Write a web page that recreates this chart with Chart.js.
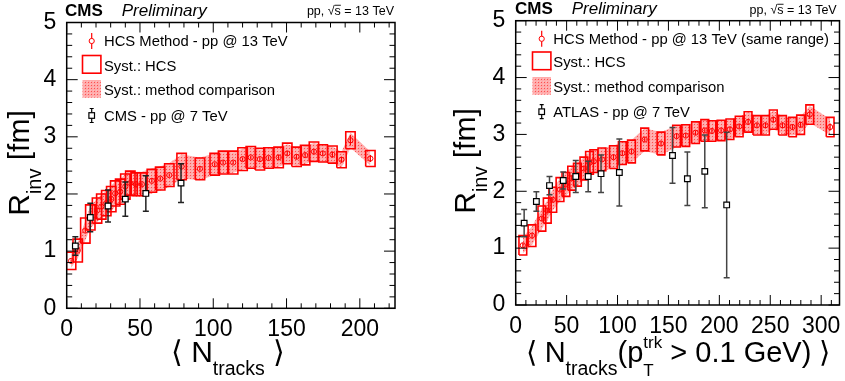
<!DOCTYPE html>
<html>
<head>
<meta charset="utf-8">
<script src="https://cdn.jsdelivr.net/npm/chart.js@4.4.1/dist/chart.umd.min.js"></script>
<style>
    html, body { margin: 0; padding: 0; background: #fff; }
    #lienzo { position: relative; width: 845px; height: 381px; }
    .panel { position: absolute; top: 0; width: 422px; height: 381px; }
</style>
</head>
<body>
<div id="lienzo">
    <div class="panel" style="left:0"><canvas id="grafica-izq" width="422" height="381"></canvas></div>
    <div class="panel" style="left:423px"><canvas id="grafica-der" width="422" height="381"></canvas></div>
</div>
<script>
// ---- panel izquierdo: HCS pp 13 TeV vs CMS pp 7 TeV ----
const nTrk13 = [3, 7.5, 12.7, 16.1, 20.7, 23.6, 27, 30.4, 33.1, 36.5, 40, 43.4, 47.2, 51.3, 58.1, 63.8, 70, 78.4,
    90.9, 101, 106.7, 113.6, 120, 125.6, 131.8, 137.7, 144.6, 150.5, 156.8, 162.7, 168.7, 174.7, 181.3, 187.5, 193.6, 207.2];
const rInv13 = [0.83, 1.01, 1.36, 1.59, 1.71, 1.78, 1.84, 1.91, 2.01, 2.04, 2.13, 2.19, 2.17, 2.17, 2.23, 2.27, 2.33, 2.48,
    2.44, 2.52, 2.55, 2.55, 2.61, 2.64, 2.61, 2.63, 2.64, 2.71, 2.65, 2.68, 2.74, 2.71, 2.69, 2.60, 2.94, 2.62];
const estad13 = [0.03, 0.03, 0.03, 0.03, 0.03, 0.03, 0.03, 0.03, 0.03, 0.03, 0.03, 0.03, 0.03, 0.03, 0.03, 0.03, 0.03, 0.03,
    0.03, 0.03, 0.03, 0.03, 0.03, 0.03, 0.03, 0.03, 0.04, 0.04, 0.04, 0.04, 0.04, 0.04, 0.05, 0.05, 0.09, 0.06];
const sistHCS13 = [0.15, 0.2, 0.22, 0.22, 0.22, 0.22, 0.22, 0.22, 0.22, 0.22, 0.22, 0.21, 0.2, 0.2, 0.2, 0.2, 0.2, 0.23,
    0.19, 0.19, 0.2, 0.2, 0.2, 0.19, 0.19, 0.18, 0.18, 0.18, 0.17, 0.17, 0.17, 0.15, 0.15, 0.14, 0.15, 0.14];
const sistMet13 = [0.12, 0.14, 0.17, 0.19, 0.2, 0.21, 0.21, 0.22, 0.22, 0.22, 0.22, 0.22, 0.22, 0.22, 0.22, 0.21, 0.21, 0.21,
    0.2, 0.19, 0.19, 0.18, 0.18, 0.18, 0.17, 0.17, 0.17, 0.16, 0.16, 0.16, 0.15, 0.15, 0.14, 0.14, 0.13, 0.12];

const nTrk7 = [5.9, 16.1, 28.2, 40, 54, 78];
const rInv7 = [1.09, 1.59, 1.79, 1.91, 2.01, 2.19];
const err7 = [0.16, 0.25, 0.28, 0.3, 0.31, 0.34];

// ---- panel derecho: HCS mismo rango (pT > 0.1 GeV) vs ATLAS pp 7 TeV ----
const nTrkMR = [7, 16, 25.7, 31, 36.4, 43.5, 49.3, 55, 60.6, 67, 72.5, 76.7, 84.7, 96, 104.7, 113.7, 126.7, 142.7,
    158, 167, 176.6, 185.7, 192.7, 201.7, 210.4, 219.5, 228.2, 236.9, 245.3, 253, 262, 271.8, 279.8, 288.8, 308.8];
const rInvMR = [1.05, 1.22, 1.52, 1.66, 1.85, 2.03, 2.12, 2.23, 2.29, 2.40, 2.50, 2.53, 2.56, 2.60, 2.67, 2.70, 2.91, 2.84,
    2.97, 2.98, 3.03, 3.07, 3.06, 3.07, 3.09, 3.14, 3.22, 3.16, 3.16, 3.26, 3.16, 3.13, 3.17, 3.35, 3.13];
const estadMR = [0.04, 0.04, 0.04, 0.04, 0.04, 0.04, 0.04, 0.04, 0.04, 0.04, 0.04, 0.04, 0.04, 0.04, 0.04, 0.04, 0.04, 0.04,
    0.04, 0.04, 0.04, 0.04, 0.04, 0.04, 0.04, 0.04, 0.04, 0.04, 0.05, 0.05, 0.05, 0.05, 0.05, 0.08, 0.06];
const sistHCSMR = [0.17, 0.19, 0.22, 0.22, 0.22, 0.21, 0.21, 0.21, 0.2, 0.2, 0.2, 0.2, 0.2, 0.2, 0.2, 0.2, 0.2, 0.2,
    0.19, 0.19, 0.19, 0.19, 0.18, 0.18, 0.18, 0.18, 0.18, 0.17, 0.17, 0.17, 0.17, 0.17, 0.17, 0.17, 0.17];
const sistMetMR = [0.14, 0.16, 0.18, 0.18, 0.19, 0.2, 0.2, 0.2, 0.2, 0.2, 0.2, 0.2, 0.2, 0.2, 0.2, 0.2, 0.2, 0.2,
    0.19, 0.19, 0.18, 0.18, 0.17, 0.17, 0.17, 0.17, 0.17, 0.16, 0.16, 0.16, 0.16, 0.15, 0.15, 0.15, 0.14];

const nTrkAtlas = [8.3, 20.3, 33.2, 46.7, 59, 71.2, 83.8, 101.8, 154, 168.6, 185.7, 207.2];
const rInvAtlas = [1.44, 1.82, 2.10, 2.19, 2.26, 2.26, 2.31, 2.33, 2.63, 2.22, 2.35, 1.76];
const errAtlas = [0.24, 0.17, 0.16, 0.15, 0.28, 0.27, 0.33, 0.59, 0.49, 0.47, 0.64, 1.28];

const ticksX13 = [0, 50, 100, 150, 200];
const ticksXMR = [0, 50, 100, 150, 200, 250, 300];
const ticksY = [0, 1, 2, 3, 4, 5];

const FUENTE = '"Liberation Sans", Arial, Helvetica, sans-serif';

// textura punteada de la banda "method comparison"
const texturaRosa = (function() {
    const c = document.createElement('canvas');
    c.width = 3; c.height = 3;
    const g = c.getContext('2d');
    g.fillStyle = 'rgba(255,120,120,0.62)';
    g.fillRect(0, 0, 3, 3);
    g.fillStyle = 'rgba(255,40,40,0.7)';
    g.fillRect(1, 1, 1, 1);
    g.fillStyle = 'rgba(255,210,210,0.5)';
    g.fillRect(0, 0, 1, 1);
    return g.createPattern(c, 'repeat');
})();

function puntos(xs, ys) {
    return xs.map((x, i) => ({ x, y: ys[i] }));
}

// segmentos verticales separados por huecos
function barras(xs, ys, e) {
    const pts = [];
    xs.forEach((x, i) => {
        pts.push({ x, y: ys[i] - e[i] }, { x, y: ys[i] + e[i] }, { x, y: null });
    });
    return pts;
}

// rectangulos cerrados para la sistematica HCS
function cajas(xs, ys, s, w) {
    const pts = [];
    xs.forEach((x, i) => {
        const a = ys[i] - s[i], b = ys[i] + s[i];
        pts.push({ x: x - w, y: a }, { x: x + w, y: a }, { x: x + w, y: b }, { x: x - w, y: b }, { x: x - w, y: a }, { x, y: null });
    });
    return pts;
}

function armarDatasets(p) {
    return [
        { data: puntos(p.xRef, p.yRef), showLine: false, pointStyle: 'rect', pointRadius: 4,
          pointBackgroundColor: '#fff', pointBorderColor: '#000', pointBorderWidth: 1.2, order: 0 },
        { data: barras(p.xRef, p.yRef, p.eRef), borderColor: p.colorRef, borderWidth: 1.5,
          pointStyle: 'line', pointRadius: 3, pointBorderColor: p.colorRef, pointBorderWidth: 1.5, order: 1 },
        { data: puntos(p.x, p.y), showLine: false, pointStyle: 'circle', pointRadius: 2.6,
          pointBackgroundColor: 'rgba(0,0,0,0)', pointBorderColor: '#f00', pointBorderWidth: 1, order: 2 },
        { data: barras(p.x, p.y, p.estad), borderColor: '#f00', borderWidth: 1.2, pointRadius: 0, order: 3 },
        { data: cajas(p.x, p.y, p.sist, p.medioAncho), borderColor: '#f00', borderWidth: 1.6,
          borderJoinStyle: 'miter', pointRadius: 0, order: 4 },
        { data: puntos(p.x, p.y.map((v, i) => v + p.met[i])), borderColor: 'rgba(0,0,0,0)', borderWidth: 0,
          pointRadius: 0, fill: '+1', backgroundColor: texturaRosa, order: 5 },
        { data: puntos(p.x, p.y.map((v, i) => v - p.met[i])), borderColor: 'rgba(0,0,0,0)', borderWidth: 0,
          pointRadius: 0, order: 6 }
    ];
}

function fuente(p) {
    return (p.estilo || '') + ' ' + p.tam + 'px ' + FUENTE;
}

// texto compuesto con subindices / superindices
function tramos(ctx, partes, x0, y0, alinear) {
    const ancho = p => { ctx.font = fuente(p); return p.apilar ? 0 : ctx.measureText(p.t).width; };
    const total = partes.reduce((s, p) => s + ancho(p), 0);
    let x = alinear === 'center' ? x0 - total / 2 : alinear === 'right' ? x0 - total : x0;
    partes.forEach(p => {
        ctx.font = fuente(p);
        ctx.fillText(p.t, x, y0 + (p.dy || 0));
        const w = ctx.measureText(p.t).width;
        if (p.barra) {
            ctx.beginPath();
            ctx.lineWidth = 0.9;
            ctx.moveTo(x, y0 - p.tam * 0.78);
            ctx.lineTo(x + w, y0 - p.tam * 0.78);
            ctx.stroke();
        }
        if (!p.apilar) x += w;
    });
}

function simbolo(ctx, tipo, mx, base) {
    const yc = base - 5;
    ctx.save();
    if (tipo === 'circulo') {
        ctx.strokeStyle = '#f00'; ctx.lineWidth = 1.2;
        ctx.beginPath(); ctx.moveTo(mx, yc - 8); ctx.lineTo(mx, yc + 8); ctx.stroke();
        ctx.fillStyle = '#fff'; ctx.lineWidth = 1;
        ctx.beginPath(); ctx.arc(mx, yc, 2.6, 0, Math.PI * 2); ctx.fill(); ctx.stroke();
    } else if (tipo === 'caja') {
        ctx.strokeStyle = '#f00'; ctx.lineWidth = 1.6;
        ctx.strokeRect(mx - 9.2, base - 15, 18.4, 17.7);
    } else if (tipo === 'banda') {
        ctx.fillStyle = texturaRosa;
        ctx.fillRect(mx - 9.2, base - 15, 18.4, 17.7);
    } else {
        ctx.strokeStyle = '#000'; ctx.lineWidth = 1.2;
        ctx.beginPath();
        ctx.moveTo(mx, yc - 7); ctx.lineTo(mx, yc + 7);
        ctx.moveTo(mx - 2, yc - 7); ctx.lineTo(mx + 2, yc - 7);
        ctx.moveTo(mx - 2, yc + 7); ctx.lineTo(mx + 2, yc + 7);
        ctx.stroke();
        ctx.fillStyle = '#fff';
        ctx.fillRect(mx - 2.8, yc - 2.8, 5.6, 5.6);
        ctx.strokeRect(mx - 2.8, yc - 2.8, 5.6, 5.6);
    }
    ctx.restore();
}

// marco estilo ROOT, titulos, cabecera y leyenda
const decoracion = {
    id: 'decoracion',
    afterDraw(chart, args, o) {
        const { ctx, chartArea: a, scales: { x, y } } = chart;
        ctx.save();
        ctx.strokeStyle = '#000';
        ctx.lineWidth = 1;
        ctx.beginPath();
        for (let i = 0; i * 10 <= x.max; i++) {
            const px = x.getPixelForValue(i * 10), l = i % 5 === 0 ? 10 : 5;
            ctx.moveTo(px, a.bottom); ctx.lineTo(px, a.bottom - l);
            ctx.moveTo(px, a.top); ctx.lineTo(px, a.top + l);
        }
        for (let i = 0; i <= 25; i++) {
            const py = y.getPixelForValue(i * 0.2), l = i % 5 === 0 ? 11 : 5.5;
            ctx.moveTo(a.left, py); ctx.lineTo(a.left + l, py);
            ctx.moveTo(a.right, py); ctx.lineTo(a.right - l, py);
        }
        ctx.stroke();
        ctx.lineWidth = 1.5;
        ctx.strokeRect(a.left, a.top, a.right - a.left, a.bottom - a.top);

        ctx.fillStyle = '#000';
        ctx.textAlign = 'left';
        ctx.textBaseline = 'alphabetic';

        // cabecera
        tramos(ctx, [{ t: 'CMS', tam: 17, estilo: 'bold' }], o.cms.x, o.cms.y);
        tramos(ctx, [{ t: 'Preliminary', tam: 17, estilo: 'italic' }], o.cms.xp, o.cms.y);
        tramos(ctx, [{ t: 'pp, \u221A', tam: 12.5 }, { t: 's', tam: 12.5, barra: true }, { t: ' = 13 TeV', tam: 12.5 }],
            o.energia.x, o.energia.y, 'right');

        // titulo eje x
        tramos(ctx, o.tituloX.partes, o.tituloX.x, o.tituloX.y, 'center');

        // titulo eje y (rotado)
        ctx.save();
        ctx.translate(o.tituloY.x, o.tituloY.y);
        ctx.rotate(-Math.PI / 2);
        tramos(ctx, [{ t: 'R', tam: 30 }, { t: 'inv', tam: 20, dy: 12 }, { t: ' [fm]', tam: 30 }], 0, 0, 'center');
        ctx.restore();

        // leyenda
        const ley = o.leyenda;
        ley.filas.forEach(f => {
            simbolo(ctx, f.tipo, ley.mx, f.base);
            ctx.fillStyle = '#000';
            tramos(ctx, [{ t: f.t, tam: 14.8 }], ley.tx, f.base);
        });
        ctx.restore();
    }
};

function crearGrafica(id, p) {
    const ctx = document.getElementById(id).getContext('2d');
    return new Chart(ctx, {
        type: 'line',
        data: { datasets: armarDatasets(p) },
        plugins: [decoracion],
        options: {
            responsive: false,
            animation: false,
            events: [],
            spanGaps: false,
            layout: { padding: p.relleno },
            elements: { line: { tension: 0 } },
            scales: {
                x: {
                    type: 'linear', min: 0, max: p.xMax,
                    grid: { display: false }, border: { display: false },
                    afterBuildTicks: s => { s.ticks = p.ticksX.map(v => ({ value: v })); },
                    ticks: { color: '#000', font: { family: FUENTE, size: 23 }, padding: 0, maxRotation: 0, autoSkip: false },
                    afterFit: s => { s.height = p.altoX; }
                },
                y: {
                    type: 'linear', min: 0, max: 5,
                    grid: { display: false }, border: { display: false },
                    afterBuildTicks: s => { s.ticks = ticksY.map(v => ({ value: v })); },
                    ticks: { color: '#000', font: { family: FUENTE, size: 23 }, padding: 2.5 },
                    afterFit: s => { s.width = p.anchoY; }
                }
            },
            plugins: {
                legend: { display: false },
                tooltip: { enabled: false },
                decoracion: p.deco
            }
        }
    });
}

crearGrafica('grafica-izq', {
    x: nTrk13, y: rInv13, estad: estad13, sist: sistHCS13, met: sistMet13,
    xRef: nTrk7, yRef: rInv7, eRef: err7, colorRef: '#222',
    medioAncho: 3.2, xMax: 224, ticksX: ticksX13,
    relleno: { left: 0, top: 22.5, right: 27, bottom: 0 }, anchoY: 66.7, altoX: 72.7,
    deco: {
        cms: { x: 65, xp: 121.7, y: 16 },
        energia: { x: 394, y: 15 },
        tituloX: { x: 228, y: 362, partes: [
            { t: '\u27E8 N', tam: 30 }, { t: 'tracks', tam: 19.5, dy: 13 }, { t: ' \u27E9', tam: 30 }
        ] },
        tituloY: { x: 28.5, y: 163 },
        leyenda: { mx: 91.7, tx: 104, filas: [
            { tipo: 'circulo', base: 46, t: 'HCS Method - pp @ 13 TeV' },
            { tipo: 'caja', base: 70.5, t: 'Syst.: HCS' },
            { tipo: 'banda', base: 95, t: 'Syst.: method comparison' },
            { tipo: 'cuadro', base: 120.5, t: 'CMS - pp @ 7 TeV' }
        ] }
    }
});

crearGrafica('grafica-der', {
    x: nTrkMR, y: rInvMR, estad: estadMR, sist: sistHCSMR, met: sistMetMR,
    xRef: nTrkAtlas, yRef: rInvAtlas, eRef: errAtlas, colorRef: '#444',
    medioAncho: 3.8, xMax: 318, ticksX: ticksXMR,
    relleno: { left: 0, top: 20.7, right: 1, bottom: 0 }, anchoY: 92.7, altoX: 76,
    deco: {
        cms: { x: 92, xp: 148.7, y: 13.5 },
        energia: { x: 413.7, y: 14 },
        tituloX: { x: 255, y: 362, partes: [
            { t: '\u27E8 N', tam: 29 }, { t: 'tracks', tam: 19.5, dy: 13 }, { t: '(p', tam: 29 },
            { t: 'T', tam: 17, dy: 14, apilar: true }, { t: 'trk', tam: 17, dy: -14 },
            { t: ' > 0.1 GeV) \u27E9', tam: 29 }
        ] },
        tituloY: { x: 52, y: 161 },
        leyenda: { mx: 118.7, tx: 130.3, filas: [
            { tipo: 'circulo', base: 43.8, t: 'HCS Method - pp @ 13 TeV (same range)' },
            { tipo: 'caja', base: 67, t: 'Syst.: HCS' },
            { tipo: 'banda', base: 92, t: 'Syst.: method comparison' },
            { tipo: 'cuadro', base: 116.7, t: 'ATLAS - pp @ 7 TeV' }
        ] }
    }
});
</script>
</body>
</html>
